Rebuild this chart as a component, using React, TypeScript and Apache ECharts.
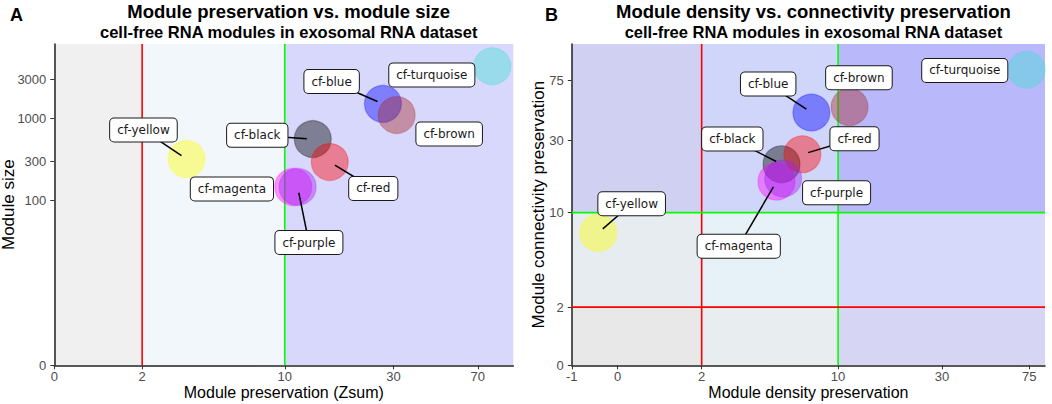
import React, { useEffect, useRef } from "react";
import * as echarts from "echarts";

// pseudo-log (asinh) transform used by both panels
const T = (v: number) => Math.asinh(v / 2);
const inv = (t: number) => 2 * Math.sinh(t);

const modules = ["cf-turquoise", "cf-blue", "cf-brown", "cf-yellow", "cf-black", "cf-red", "cf-magenta", "cf-purple"];
const moduleColors = ["#40E0D0", "#0000FF", "#A52A2A", "#FFFF00", "#000000", "#FF0000", "#FF00FF", "#A020F0"];

// Panel A
const zsummary = [81, 27, 31, 3.5, 13.3, 15.8, 10.9, 11.4];
const moduleSize = [4300, 1500, 1100, 320, 560, 295, 147, 147];
// Panel B
const densityZ = [73, 7.5, 11.3, -0.41, 5.4, 6.8, 5.1, 5.5];
const connectivityZ = [88, 46, 50, 7.3, 21, 24.4, 16.1, 16.9];

const xTicksA = [0, 2, 10, 30, 70];
const yTicksA = [0, 100, 300, 1000, 3000];
const xTicksB = [-1, 0, 2, 10, 30, 75];
const yTicksB = [0, 2, 10, 30, 75];

const xLimA = [0, 100];
const yLimA = [0, 8000];
const xLimB = [-1, 88.5];
const yLimB = [0, 130];

const thresholds = [2, 10];
const thresholdColors = ["#FF0000", "#00FF00"];

// label offsets (px) relative to point: [dx, dy, drawSegment]
const labelOffsetsA: [number, number, boolean][] = [
  [-60.5, 8.7, false],
  [-51.3, -22.3, true],
  [52.5, 19, false],
  [-43, -29, true],
  [-55.5, -3.7, true],
  [43.5, 26.5, true],
  [-61.3, 2, false],
  [11.3, 55.7, true],
];
const labelOffsetsB: [number, number, boolean][] = [
  [-61.9, 0.7, false],
  [-43.2, -28.5, true],
  [9.4, -29.4, false],
  [33.4, -29.1, true],
  [-49.2, -25.1, true],
  [52.1, -15.6, true],
  [-37.7, 64.6, true],
  [53.4, 14.4, false],
];

const bgColorsA = ["#f0f0f0", "#f1f7fa", "#d8d8fd"];
// rows from bottom (y<2) to top (y>10), columns x<2, 2-10, >10
const bgColorsB = [
  ["#e8e8e8", "#e8eef0", "#d6d6f4"],
  ["#e6ecf0", "#e6f2f7", "#d6d9fa"],
  ["#d0d0f2", "#d0d6f9", "#b8b8fb"],
];

const FONT = "Liberation Sans, Arial, sans-serif";
const LABEL_FONT = "DejaVu Sans, sans-serif";

function hexToRgba(hex: string, a: number) {
  const n = parseInt(hex.slice(1), 16);
  return `rgba(${(n >> 16) & 255},${(n >> 8) & 255},${n & 255},${a})`;
}

function axis(gridIndex: number, lim: number[], ticks: number[], name: string, nameGap: number, isX: boolean) {
  const tv = ticks.map(T);
  return {
    type: "value",
    gridIndex,
    min: T(lim[0]),
    max: T(lim[1]),
    name,
    nameLocation: "middle",
    nameGap,
    nameMoveOverlap: false,
    nameTextStyle: isX
      ? { fontFamily: FONT, fontSize: 16, lineHeight: 16, color: "#000" }
      : { fontFamily: FONT, fontSize: 17, lineHeight: 17, color: "#000" },
    axisLine: { show: true, onZero: false, lineStyle: { color: "#222", width: 1.5 } },
    axisTick: { show: true, customValues: tv, length: 4, lineStyle: { color: "#333", width: 1 } },
    axisLabel: {
      customValues: tv,
      formatter: (v: number) => String(Math.round(inv(v))),
      fontFamily: FONT,
      fontSize: 13,
      lineHeight: 13,
      color: "#4d4d4d",
      margin: isX ? 5 : 8,
    },
    splitLine: { show: false },
  };
}

function bgSeries(idx: number, rects: number[][], colors: string[]) {
  return {
    type: "custom",
    xAxisIndex: idx,
    yAxisIndex: idx,
    z: 0,
    silent: true,
    clip: true,
    encode: { x: [0, 1], y: [2, 3] },
    data: rects,
    renderItem: (params: any, api: any) => {
      const p0 = api.coord([api.value(0), api.value(2)]);
      const p1 = api.coord([api.value(1), api.value(3)]);
      return {
        type: "rect",
        shape: { x: p0[0], y: p1[1], width: p1[0] - p0[0], height: p0[1] - p1[1] },
        style: { fill: colors[params.dataIndex] },
      };
    },
  };
}

function lineSeries(idx: number, segs: number[][], colors: string[]) {
  return {
    type: "custom",
    xAxisIndex: idx,
    yAxisIndex: idx,
    z: 1,
    silent: true,
    encode: { x: [0, 2], y: [1, 3] },
    data: segs,
    renderItem: (params: any, api: any) => {
      const p0 = api.coord([api.value(0), api.value(1)]);
      const p1 = api.coord([api.value(2), api.value(3)]);
      return {
        type: "line",
        shape: { x1: p0[0], y1: p0[1], x2: p1[0], y2: p1[1] },
        style: { stroke: colors[params.dataIndex], lineWidth: 1.6 },
      };
    },
  };
}

function pointSeries(idx: number, xs: number[], ys: number[]) {
  return {
    type: "scatter",
    xAxisIndex: idx,
    yAxisIndex: idx,
    z: 2,
    symbolSize: 37,
    data: xs.map((x, i) => ({
      value: [T(x), T(ys[i])],
      itemStyle: {
        color: hexToRgba(moduleColors[i], 0.52),
        borderColor: hexToRgba(moduleColors[i], 0.35),
        borderWidth: 1.2,
      },
    })),
  };
}

function labelSeries(idx: number, xs: number[], ys: number[], offsets: [number, number, boolean][]) {
  return {
    type: "custom",
    xAxisIndex: idx,
    yAxisIndex: idx,
    z: 5,
    clip: false,
    silent: true,
    encode: { x: 0, y: 1 },
    data: xs.map((x, i) => [T(x), T(ys[i])]),
    renderItem: (params: any, api: any) => {
      const i = params.dataIndex;
      const p = api.coord([api.value(0), api.value(1)]);
      const [dx, dy, seg] = offsets[i];
      const lx = p[0] + dx;
      const ly = p[1] + dy;
      const children: any[] = [];
      if (seg) {
        const d = Math.hypot(dx, dy);
        const sx = p[0] + (dx / d) * 6;
        const sy = p[1] + (dy / d) * 6;
        children.push({
          type: "line",
          shape: { x1: sx, y1: sy, x2: lx, y2: ly },
          style: { stroke: "#000", lineWidth: 1.5 },
        });
      }
      children.push({
        type: "text",
        x: lx,
        y: ly,
        style: {
          text: modules[i],
          align: "center",
          verticalAlign: "middle",
          fontFamily: LABEL_FONT,
          fontSize: 12,
          lineHeight: 14,
          fill: "#1a1a1a",
          backgroundColor: "#ffffff",
          borderColor: "#1a1a1a",
          borderWidth: 1,
          borderRadius: 4,
          padding: [5, 7, 4, 7],
        },
      });
      return { type: "group", children };
    },
  };
}

function buildOption() {
  const rectsA = [
    [xLimA[0], thresholds[0], yLimA[0], yLimA[1]],
    [thresholds[0], thresholds[1], yLimA[0], yLimA[1]],
    [thresholds[1], xLimA[1], yLimA[0], yLimA[1]],
  ].map((r) => [T(r[0]), T(r[1]), T(r[2]), T(r[3])]);

  const xEdgesB = [xLimB[0], thresholds[0], thresholds[1], xLimB[1]];
  const yEdgesB = [yLimB[0], thresholds[0], thresholds[1], yLimB[1]];
  const rectsB: number[][] = [];
  const colorsB: string[] = [];
  for (let r = 0; r < 3; r++) {
    for (let c = 0; c < 3; c++) {
      rectsB.push([T(xEdgesB[c]), T(xEdgesB[c + 1]), T(yEdgesB[r]), T(yEdgesB[r + 1])]);
      colorsB.push(bgColorsB[r][c]);
    }
  }

  const segsA = thresholds.map((t) => [T(t), T(yLimA[0]), T(t), T(yLimA[1])]);
  const segsB = [
    ...thresholds.map((t) => [T(t), T(yLimB[0]), T(t), T(yLimB[1])]),
    ...thresholds.map((t) => [T(xLimB[0]), T(t), T(xLimB[1]), T(t)]),
  ];

  const titleStyle = { fontFamily: FONT, fontWeight: "bold", color: "#000" };

  return {
    animation: false,
    backgroundColor: "#ffffff",
    title: [
      { text: "A", left: 5, top: 1, textStyle: { ...titleStyle, fontSize: 18 } },
      { text: "B", left: 540, top: 1, textStyle: { ...titleStyle, fontSize: 18 } },
      { text: "Module preservation vs. module size", left: 283.7, top: -3, textAlign: "center", textStyle: { ...titleStyle, fontSize: 18.5 } },
      { text: "cell-free RNA modules in exosomal RNA dataset", left: 283.7, top: 18, textAlign: "center", textStyle: { ...titleStyle, fontSize: 16.5 } },
      { text: "Module density vs. connectivity preservation", left: 808.4, top: -3, textAlign: "center", textStyle: { ...titleStyle, fontSize: 18.5 } },
      { text: "cell-free RNA modules in exosomal RNA dataset", left: 808.4, top: 18, textAlign: "center", textStyle: { ...titleStyle, fontSize: 16.5 } },
    ],
    grid: [
      { left: 54.3, top: 44, width: 459, height: 321.3, containLabel: false, outerBoundsMode: "none" },
      { left: 571.8, top: 44, width: 473.2, height: 321.3, containLabel: false, outerBoundsMode: "none" },
    ],
    xAxis: [
      axis(0, xLimA, xTicksA, "Module preservation (Zsum)", 19.5, true),
      axis(1, xLimB, xTicksB, "Module density preservation", 19.5, true),
    ],
    yAxis: [
      axis(0, yLimA, yTicksA, "Module size", 37, false),
      axis(1, yLimB, yTicksB, "Module connectivity preservation", 25, false),
    ],
    series: [
      bgSeries(0, rectsA, bgColorsA),
      bgSeries(1, rectsB, colorsB),
      lineSeries(0, segsA, thresholdColors),
      lineSeries(1, segsB, [...thresholdColors, ...thresholdColors]),
      pointSeries(0, zsummary, moduleSize),
      pointSeries(1, densityZ, connectivityZ),
      labelSeries(0, zsummary, moduleSize, labelOffsetsA),
      labelSeries(1, densityZ, connectivityZ, labelOffsetsB),
    ],
  };
}

export default function App() {
  const ref = useRef<HTMLDivElement>(null);
  useEffect(() => {
    document.body.style.margin = "0";
    const chart = echarts.init(ref.current!, null, { renderer: "svg" });
    chart.setOption(buildOption() as any);
    return () => chart.dispose();
  }, []);
  return <div ref={ref} style={{ width: 1052, height: 404 }} />;
}
